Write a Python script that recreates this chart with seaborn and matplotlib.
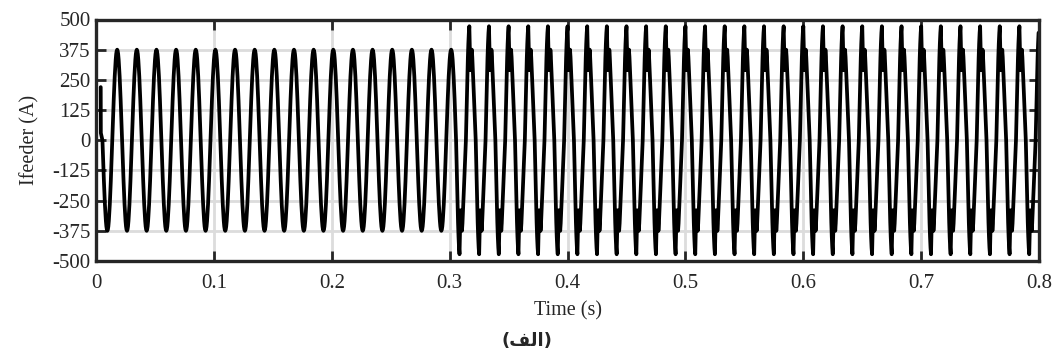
import numpy as np
import pandas as pd
import seaborn as sns
import matplotlib.pyplot as plt

# ---- data ----
freq_hz = 60.0
first_up_crossing_s = 0.0138          # first upward zero crossing of the feeder current
distortion_start_half = 35            # half-cycle index where the distorted waveform begins
t_end = 0.8
start_t = [0.0040, 0.0041]            # initial transient points
start_i = [220, 30]
# one half-cycle (positive) sampled at 21 points: clean sine portion
pure_half = [0, 59, 116, 170, 220, 265, 303, 334, 357, 370, 375,
             370, 357, 334, 303, 265, 220, 170, 116, 59, 0]
# one half-cycle (positive) after the disturbance (spike and notch near the peak)
dist_half = [0, 90, 180, 265, 340, 400, 445, 472, 380, 290, 370,
             300, 375, 345, 300, 250, 200, 150, 100, 50, 0]
x_ticks = [0, 0.1, 0.2, 0.3, 0.4, 0.5, 0.6, 0.7, 0.8]
x_tick_labels = ["0", "0.1", "0.2", "0.3", "0.4", "0.5", "0.6", "0.7", "0.8"]
y_ticks = [-500, -375, -250, -125, 0, 125, 250, 375, 500]
y_tick_labels = ["-500", "-375", "-250", "-125", "0", "125", "250", "375", "500"]

# ---- assemble the periodic waveform from the half-cycle shapes ----
half_T = 1.0 / (2 * freq_hz)
ts = list(start_t)
vs = list(start_i)
k = -1
while True:
    t_start = first_up_crossing_s + k * half_T
    if t_start > t_end:
        break
    shape = pure_half if k < distortion_start_half else dist_half
    sign = 1 if k % 2 == 0 else -1
    n = len(shape)
    for j in range(n):
        if j == 0 and k > -1:
            continue
        ts.append(t_start + half_T * j / (n - 1))
        vs.append(sign * shape[j])
    k += 1
df = pd.DataFrame({"t": ts, "i": vs})
df = df[df["t"] <= t_end + 1e-9]

# ---- plot ----
sns.set_theme(style="white")
plt.rcParams["font.family"] = ["Liberation Serif", "DejaVu Serif"]
plt.rcParams["axes.unicode_minus"] = False

fig = plt.figure(figsize=(10.54, 3.53), dpi=100)
ax = fig.add_axes([96 / 1054, 1 - 261 / 353, (1039 - 96) / 1054, (261 - 19.5) / 353])

sns.lineplot(data=df, x="t", y="i", ax=ax, color="black", linewidth=2.7,
             sort=False, estimator=None, zorder=3)

ax.set_xlim(0, 0.8)
ax.set_ylim(-500, 500)
ax.set_xticks(x_ticks)
ax.set_xticklabels(x_tick_labels)
ax.set_yticks(y_ticks)
ax.set_yticklabels(y_tick_labels)
ax.grid(True, color="#dcdcdc", linewidth=2.0, zorder=0)
ax.set_axisbelow(True)

for s in ax.spines.values():
    s.set_color("#262626")
    s.set_linewidth(2.4)
    s.set_visible(True)
    s.set_zorder(5)

ax.tick_params(axis="both", which="major", direction="in", length=7, width=2.0,
               color="#262626", labelsize=15, labelcolor="#262626",
               top=True, right=True, bottom=True, left=True, pad=4)
ax.tick_params(axis="x", pad=9)

ax.set_xlabel("Time (s)", fontsize=14.5, color="#262626", labelpad=6)
ax.set_ylabel("Ifeeder (A)", fontsize=14.5, color="#262626", labelpad=9)

# caption in Arabic (presentation forms in visual order so it renders joined)
caption = "(" + "\uFED2\uFEDF\uFE8D" + ")"
fig.text(527 / 1054, 1 - 341 / 353, caption, ha="center", va="center",
         fontsize=13, fontweight="bold", family=["DejaVu Sans"], color="#262626")

fig.savefig("out.png", dpi=100)
